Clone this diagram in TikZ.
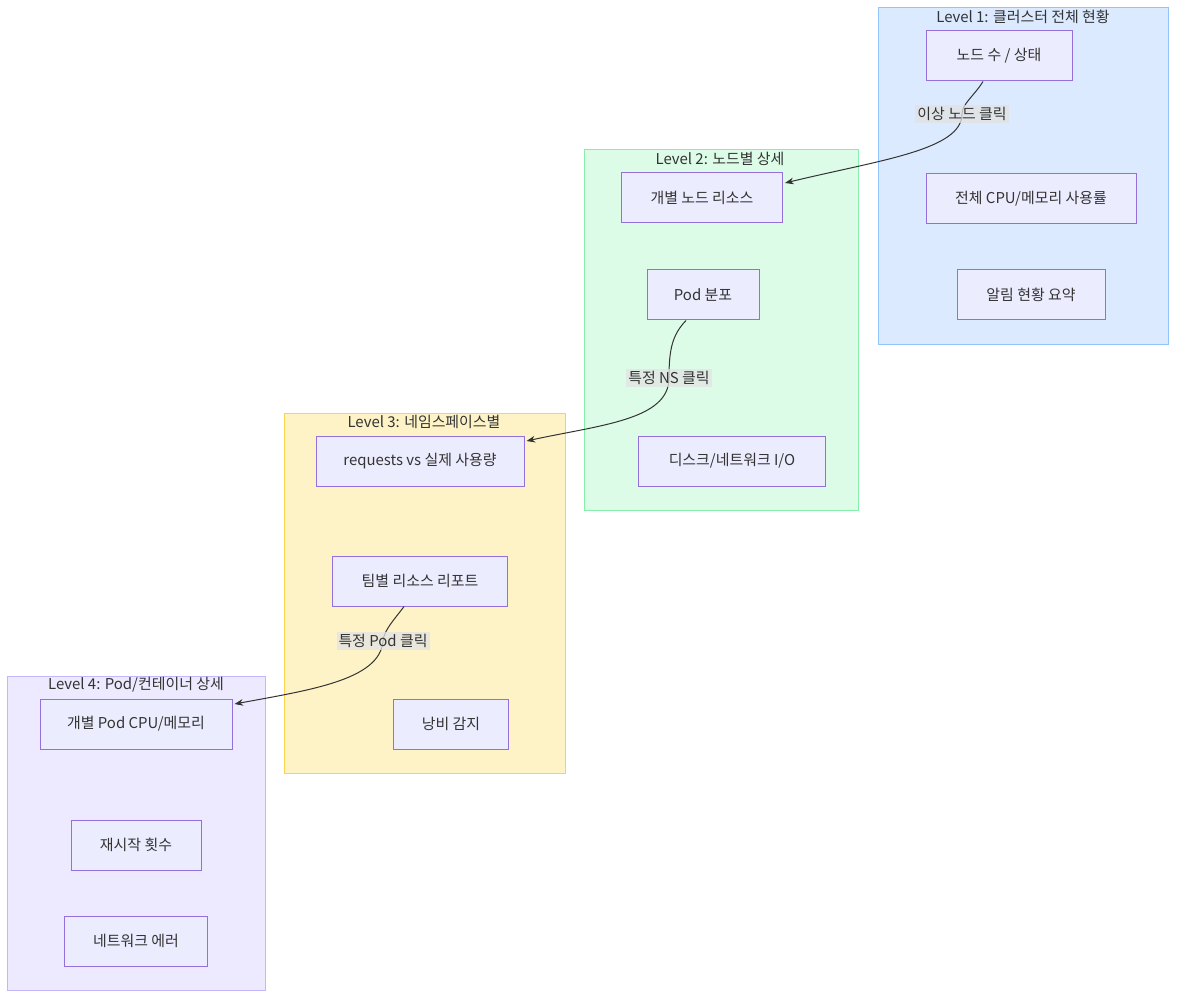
\documentclass[tikz,border=0pt]{standalone}
\usepackage{fontspec}
\setmainfont{Noto Sans CJK KR}
\usetikzlibrary{arrows.meta,calc}
\definecolor{boxfill}{HTML}{ECECFF}
\definecolor{boxline}{HTML}{9370DB}
\definecolor{lvAfill}{HTML}{DBEAFE}\definecolor{lvAline}{HTML}{93C5FD}
\definecolor{lvBfill}{HTML}{DCFCE7}\definecolor{lvBline}{HTML}{86EFAC}
\definecolor{lvCfill}{HTML}{FEF3C7}\definecolor{lvCline}{HTML}{FCD34D}
\definecolor{lvDfill}{HTML}{EDE9FE}\definecolor{lvDline}{HTML}{C4B5FD}
\definecolor{edgecol}{HTML}{333333}
\begin{document}
\begin{tikzpicture}[
	x=0.75pt, y=-0.75pt,
	box/.style={draw=boxline, fill=boxfill, line width=0.75pt, minimum height=37.5pt, inner sep=0pt, font=\fontsize{11.2}{13}\selectfont, text=edgecol},
	ttl/.style={font=\fontsize{11.2}{13}\selectfont, text=edgecol},
	elbl/.style={fill=gray!22, fill opacity=0.75, text opacity=1, inner sep=1.5pt, font=\fontsize{11.2}{13}\selectfont, text=edgecol},
	link/.style={draw=edgecol, line width=0.75pt, -{Stealth[length=6.5pt, width=5pt]}}
	]
	\useasboundingbox (0,0) rectangle (1184,1005);
	% --- Level 1 ---
	\draw[fill=lvAfill, draw=lvAline, line width=0.75pt] (878,8) rectangle (1168,344);
	\node[ttl] (t1) at (1023,17) {Level 1: 클러스터 전체 현황};
	\node[box, minimum width=109.5pt] (stat) at (999,56) {노드 수 / 상태};
	\node[box, minimum width=157.5pt] (usage) at (1031,199) {전체 CPU/메모리 사용률};
	\node[box, minimum width=111pt] (alert) at (1031,295) {알림 현황 요약};
	% --- Level 2 ---
	\draw[fill=lvBfill, draw=lvBline, line width=0.75pt] (584,150) rectangle (858,510);
	\node[ttl] (t2) at (720,159) {Level 2: 노드별 상세};
	\node[box, minimum width=120.75pt] (nres) at (702,198) {개별 노드 리소스};
	\node[box, minimum width=84pt] (pdist) at (703,295) {Pod 분포};
	\node[box, minimum width=140.25pt] (disk) at (732,461) {디스크/네트워크 I/O};
	% --- Level 3 ---
	\draw[fill=lvCfill, draw=lvCline, line width=0.75pt] (284,413) rectangle (565,773);
	\node[ttl] (t3) at (424,422) {Level 3: 네임스페이스별};
	\node[box, minimum width=156pt] (req) at (420,461) {requests vs 실제 사용량};
	\node[box, minimum width=131.25pt] (team) at (420,581) {팀별 리소스 리포트};
	\node[box, minimum width=86.25pt] (waste) at (451,724) {낭비 감지};
	% --- Level 4 ---
	\draw[fill=lvDfill, draw=lvDline, line width=0.75pt] (7,676) rectangle (265,990);
	\node[ttl] (t4) at (136,685) {Level 4: Pod/컨테이너 상세};
	\node[box, minimum width=144pt] (podcpu) at (136,724) {개별 Pod CPU/메모리};
	\node[box, minimum width=97.5pt] (restart) at (136,845) {재시작 횟수};
	\node[box, minimum width=107.25pt] (neterr) at (136,941) {네트워크 에러};
	% --- drill-down links ---
	\coordinate (m1) at (962,114);
	\coordinate (m2) at (669,378);
	\coordinate (m3) at (383,641);
	\path[link] ($(stat.south)+(-16,0)$) .. controls (974,96) and (962,104) .. (m1)
		.. controls (962,150) and (880,160) .. ($(nres.east)+(2,-15)$);
	\path[link] ($(pdist.south)+(-17,0)$) .. controls (672,335) and (669,350) .. (m2)
		.. controls (669,420) and (600,425) .. ($(req.east)+(2,-20)$);
	\path[link] ($(team.south)+(-16,0)$) .. controls (394,620) and (384,630) .. (m3)
		.. controls (380,680) and (310,690) .. ($(podcpu.east)+(2,-20)$);
	\node[elbl] (l1) at (m1) {이상 노드 클릭};
	\node[elbl] (l2) at (m2) {특정 NS 클릭};
	\node[elbl] (l3) at (m3) {특정 Pod 클릭};
\end{tikzpicture}
\end{document}
